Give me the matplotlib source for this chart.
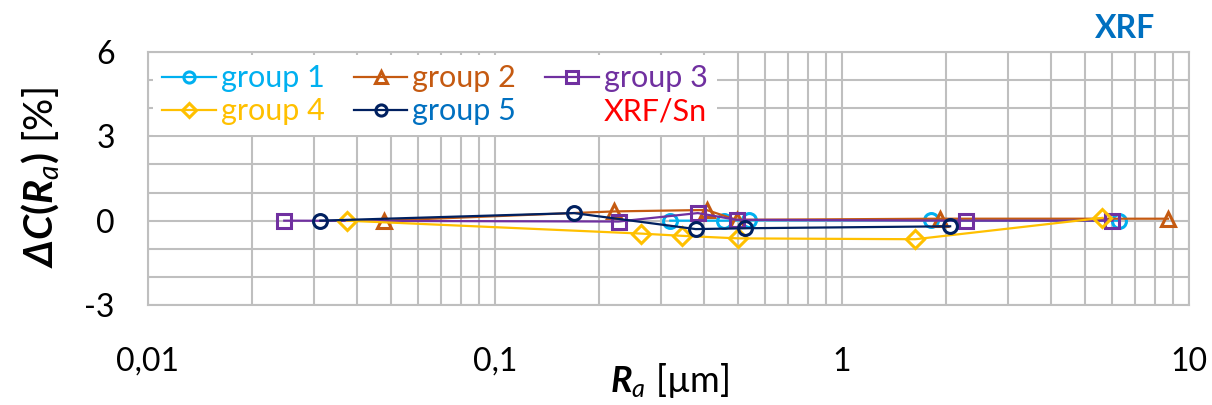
import matplotlib.pyplot as plt
from matplotlib.lines import Line2D
from matplotlib.ticker import FixedLocator, FuncFormatter, MultipleLocator

plt.rcParams['font.family'] = ['Lato', 'DejaVu Sans']
plt.rcParams['axes.unicode_minus'] = False
plt.rcParams['mathtext.fontset'] = 'custom'
plt.rcParams['mathtext.rm'] = 'Lato'
plt.rcParams['mathtext.it'] = 'Lato:italic'
plt.rcParams['mathtext.bf'] = 'Lato:bold'
plt.rcParams['mathtext.bfit'] = 'Lato:italic:bold'

# Ra [um] and Delta C [%] per group
g1_x = [0.32, 0.456, 0.54, 1.80, 6.28]
g1_y = [0.0, 0.0, 0.01, 0.01, 0.0]
g2_x = [0.048, 0.221, 0.407, 0.497, 1.92, 8.7]
g2_y = [0.0, 0.33, 0.38, 0.03, 0.07, 0.07]
g3_x = [0.0247, 0.227, 0.384, 0.497, 2.28, 6.02]
g3_y = [0.0, -0.03, 0.27, 0.03, 0.0, 0.0]
g4_x = [0.0374, 0.264, 0.347, 0.502, 1.626, 5.63]
g4_y = [0.0, -0.46, -0.54, -0.63, -0.66, 0.1]
g5_x = [0.0314, 0.169, 0.379, 0.527, 2.05]
g5_y = [0.0, 0.27, -0.3, -0.27, -0.2]

names = ['group 1', 'group 2', 'group 3', 'group 4', 'group 5']
xs = [g1_x, g2_x, g3_x, g4_x, g5_x]
ys = [g1_y, g2_y, g3_y, g4_y, g5_y]
colors = ['#00B0F0', '#C55A11', '#7030A0', '#FFC000', '#002060']
text_colors = ['#00B0F0', '#C55A11', '#7030A0', '#FFC000', '#0070C0']
markers = ['o', '^', 's', 'D', 'o']
msizes = [10, 10, 10, 9, 10]

x_ticks = [0.01, 0.1, 1, 10]
x_ticklabels = ['0,01', '0,1', '1', '10']

fig = plt.figure(figsize=(12.12, 4.05), dpi=100)
ax = fig.add_axes([0.1221, 0.2469, 0.8589, 0.6247])

lines = []
for x, y, c, m, ms, n in zip(xs, ys, colors, markers, msizes, names):
    ln, = ax.plot(x, y, color=c, lw=1.6, marker=m, ms=ms, mfc='none',
                  mec=c, mew=2.2, label=n, zorder=3)
    lines.append(ln)

ax.set_xscale('log')
ax.set_xlim(0.01, 10)
ax.set_ylim(-3, 6)
ax.xaxis.set_major_locator(FixedLocator(x_ticks))
ax.xaxis.set_major_formatter(FuncFormatter(lambda v, p: x_ticklabels[x_ticks.index(v)] if v in x_ticks else ''))
ax.yaxis.set_major_locator(MultipleLocator(3))
ax.yaxis.set_minor_locator(MultipleLocator(1))
ax.grid(True, which='both', color='#BFBFBF', lw=1.5, zorder=0)
ax.set_axisbelow(True)
for s in ax.spines.values():
    s.set_color('#BFBFBF')
    s.set_linewidth(1.5)
ax.tick_params(which='both', length=0, labelsize=23)
ax.tick_params(axis='x', pad=30)
ax.tick_params(axis='y', pad=24)

# legend: Excel fills rows, matplotlib fills columns
dummy = Line2D([], [], color='none', marker=None, label='XRF/Sn')
order = [lines[0], lines[3], lines[1], lines[4], lines[2], dummy]
leg = ax.legend(handles=order, ncol=3, loc='upper left',
                bbox_to_anchor=(0.005, 0.988), borderaxespad=0,
                fontsize=22, frameon=True, fancybox=False,
                facecolor='white', edgecolor='none', framealpha=1,
                handlelength=1.75, handletextpad=0.17, columnspacing=0.95,
                labelspacing=0.17, borderpad=0.3, markerscale=0.8)
leg_colors = [text_colors[0], text_colors[3], text_colors[1], text_colors[4],
              text_colors[2], '#FF0000']
for t, c in zip(leg.get_texts(), leg_colors):
    t.set_color(c)

fig.text(1125 / 1212, 1 - 28 / 405, 'XRF', color='#0070C0', fontsize=23,
         fontweight='bold', ha='center', va='center')
fig.text(40 / 1212, 1 - 178 / 405,
         r'$\mathbfit{\Delta C}\mathbf{(}\mathbfit{R}_{\mathit{a}}\mathbf{)}$ [%]',
         rotation=90, fontsize=29, ha='center', va='center')
fig.text(670 / 1212, 1 - 380 / 405, r'$\mathbfit{R}_{\mathit{a}}$ [µm]',
         fontsize=26, ha='center', va='center')

fig.savefig('out.png', dpi=100)
